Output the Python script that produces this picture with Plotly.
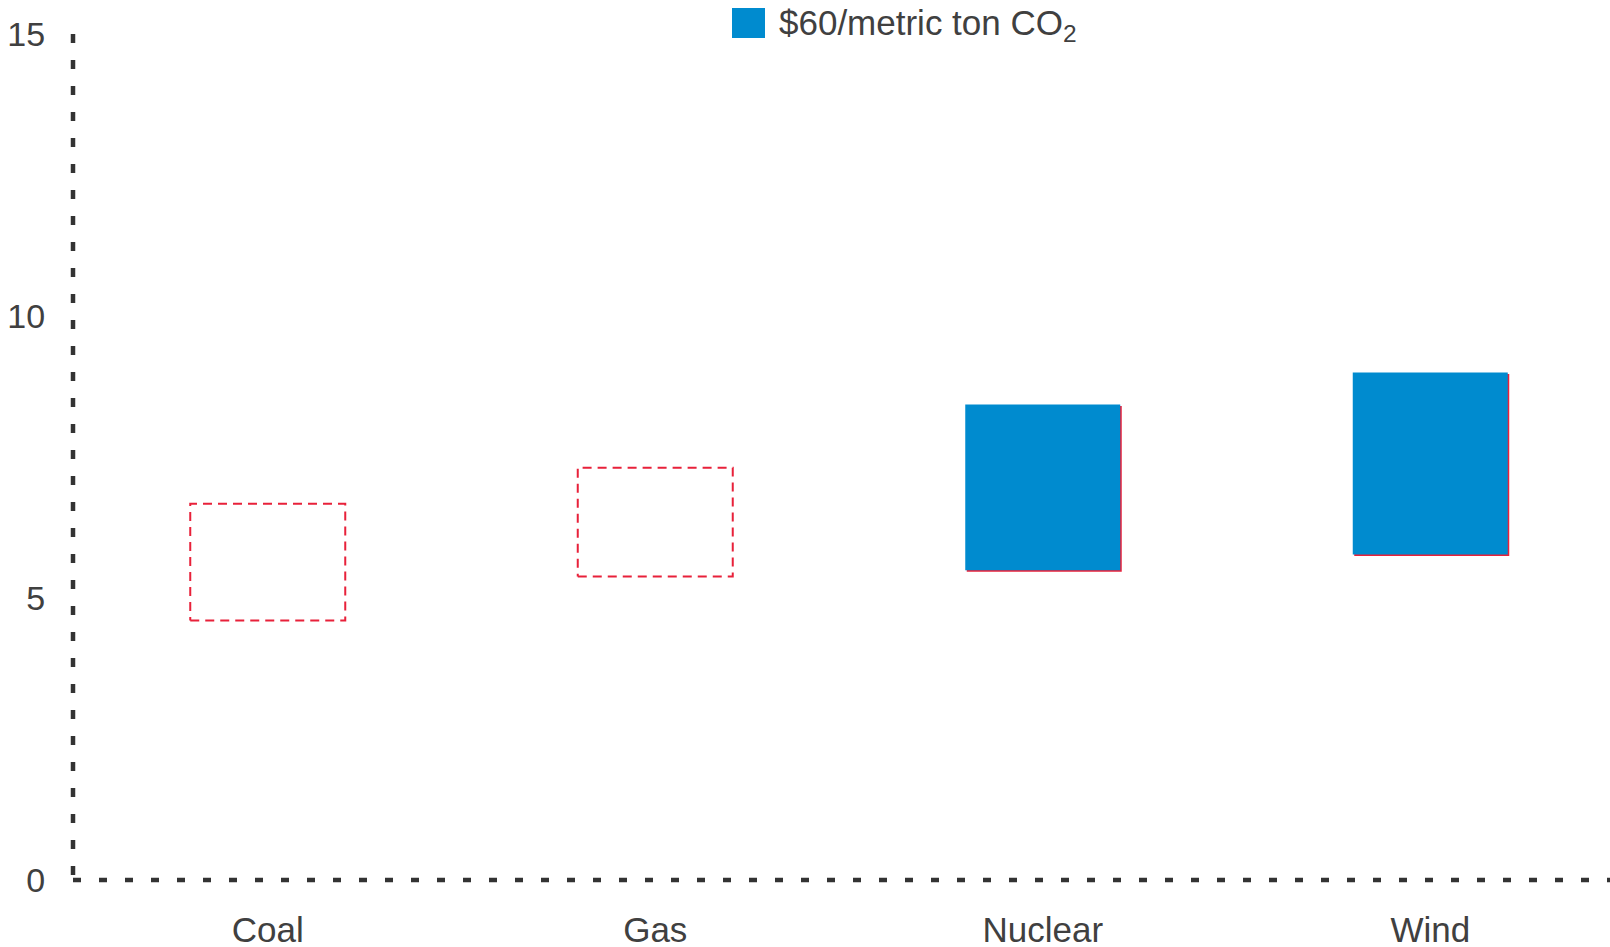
import plotly.graph_objects as go

categories = ["Coal", "Gas", "Nuclear", "Wind"]
low_values = [4.60, 5.38, 5.49, 5.77]
high_values = [6.67, 7.31, 8.43, 9.00]
dashed_flags = [True, True, False, False]
y_ticks = [0, 5, 10, 15]
legend_label = "$60/metric ton CO<sub>2</sub>"

BLUE = "#008bcf"
RED = "#e8213a"
AXIS = "#333333"
TEXT = "#404040"
FONT = "Liberation Sans, Arial, sans-serif"
BAR_W = 0.4

W, H = 1610, 947
ML, MR, MT, MB = 73, 0, 34, 67
plot_w = W - ML - MR
plot_h = H - MT - MB
px_per_cat = 387.5
x_range = [-0.5 + (ML - 74) / px_per_cat, -0.5 + (ML - 74 + plot_w) / px_per_cat]
y_range = [0, 15]
px_per_y = plot_h / (y_range[1] - y_range[0])

fig = go.Figure()

xs = list(range(len(categories)))

# dashed outline boxes
for i, (lo, hi, d) in enumerate(zip(low_values, high_values, dashed_flags)):
    if not d:
        continue
    x0, x1 = xs[i] - BAR_W / 2, xs[i] + BAR_W / 2
    fig.add_trace(go.Scatter(
        x=[x0, x1, x1, x0, x0], y=[lo, lo, hi, hi, lo],
        mode="lines", line=dict(color=RED, width=2, dash="9px,6px"),
        showlegend=False, hoverinfo="skip"))

fx = [xs[i] for i in range(len(categories)) if not dashed_flags[i]]
flo = [low_values[i] for i in range(len(categories)) if not dashed_flags[i]]
fhi = [high_values[i] for i in range(len(categories)) if not dashed_flags[i]]
fh = [h - l for l, h in zip(flo, fhi)]

shift_x = 1.5 / px_per_cat
shift_y = 1.5 / px_per_y
# red edge (slightly offset, behind)
fig.add_trace(go.Bar(
    x=fx, y=fh, base=[b - shift_y for b in flo], width=BAR_W,
    offset=-BAR_W / 2 + shift_x,
    marker=dict(color=RED, line=dict(width=0)), showlegend=False, hoverinfo="skip"))
# blue fill
fig.add_trace(go.Bar(
    x=fx, y=fh, base=flo, width=BAR_W, offset=-BAR_W / 2,
    marker=dict(color=BLUE, line=dict(width=0)), showlegend=False))

# dashed axis lines (drawn from the top / from the left so patterns start there)
fig.add_shape(type="line", xref="paper", yref="paper", x0=0, x1=0, y0=1, y1=0,
              line=dict(color=AXIS, width=4.5, dash="9px,17px"), layer="above")
fig.add_shape(type="line", xref="paper", yref="paper", x0=0, x1=1, y0=0, y1=0,
              line=dict(color=AXIS, width=4.5, dash="8px,18px"), layer="above")

# manual legend
def px_to_paper_x(px):
    return (px - ML) / plot_w

def px_to_paper_y(py):
    return (H - MB - py) / plot_h

fig.add_shape(type="rect", xref="paper", yref="paper",
              x0=px_to_paper_x(732), x1=px_to_paper_x(765),
              y0=px_to_paper_y(38), y1=px_to_paper_y(8),
              fillcolor=BLUE, line=dict(width=0))
fig.add_annotation(xref="paper", yref="paper", x=px_to_paper_x(777), y=px_to_paper_y(25),
                   xanchor="left", yanchor="middle", showarrow=False,
                   text=legend_label, font=dict(size=35, color=TEXT, family=FONT))

fig.update_layout(
    width=W, height=H,
    margin=dict(l=ML, r=MR, t=MT, b=MB, pad=0, autoexpand=False),
    plot_bgcolor="white", paper_bgcolor="white",
    barmode="overlay",
    showlegend=False,
    font=dict(family=FONT, color=TEXT),
    xaxis=dict(range=x_range, tickvals=xs, ticktext=categories, automargin=False,
               showgrid=False, zeroline=False, showline=False,
               ticks="outside", ticklen=19, tickcolor="rgba(0,0,0,0)",
               tickfont=dict(size=35, color=TEXT, family=FONT)),
    yaxis=dict(range=y_range, tickvals=y_ticks, automargin=False,
               showgrid=False, zeroline=False, showline=False,
               ticks="outside", ticklen=20, tickcolor="rgba(0,0,0,0)",
               tickfont=dict(size=34, color=TEXT, family=FONT)),
)

fig.write_html("out.html", config={"displayModeBar": False},
               post_script="document.body.style.margin='0';document.body.style.overflow='hidden';")
